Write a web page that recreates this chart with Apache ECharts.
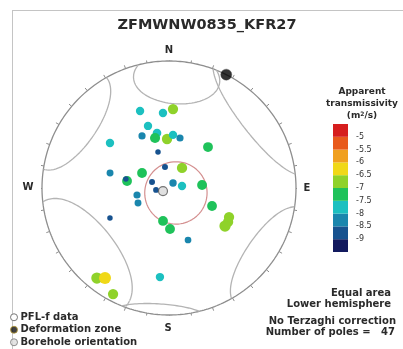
<!DOCTYPE html>
<html>
<head>
<meta charset="utf-8">
<script src="https://cdn.jsdelivr.net/npm/echarts@6/dist/echarts.min.js"></script>
<style>html,body{margin:0;padding:0;background:#fff}#c{width:403px;height:349px}</style>
</head>
<body>
<div id="c"></div>
<script>
// ---------------- data ----------------
const chartTitle = 'ZFMWNW0835_KFR27';
// PFL-f poles (trend, plunge in degrees) and log10 apparent transmissivity
const poleTrend  = [339.4,355.4,2.9,341.3,332.6,347.7,344.4,357.7,4.3,12.4,307.3,43.6,343,284.3,299.1,279.5,281.8,349.2,33,84.8,289.4,38.7,81.3,261.3,257.7,244.2,112.7,243,190.3,178.6,115.8,119.9,124.2,159.9,185.8,218.7,215.4,207.8];
const polePlunge = [35.5,40.5,37.8,47.2,51.9,53.5,56.4,58.3,55.5,56.9,41.2,53.3,65.8,50.4,70.2,62.6,61.6,76.3,74.7,68.7,78.5,85.9,81.6,81.6,69.0,67.9,59.9,46.7,68.5,63.6,46.4,45.4,45.7,54.1,30.2,10.1,14.1,6.2];
const poleLogT   = [-7.8,-7.8,-7.0,-7.8,-8.3,-7.7,-7.1,-7.0,-7.8,-8.3,-7.8,-7.2,-9.0,-8.4,-7.2,-7.2,-9.0,-8.8,-7.0,-7.2,-8.8,-8.2,-7.8,-8.9,-8.3,-8.4,-7.2,-9.0,-7.2,-7.2,-7.0,-7.0,-6.6,-8.5,-7.8,-6.6,-6.3,-7.0];
// deformation zone pole and borehole orientation
const dzTrend = [26.8], dzPlunge = [0];
const bhTrend = [243], bhPlunge = [85.7];
// small circles (axis trend, plunge, half-angle)
const scTrend = [4, 304.5, 232], scPlunge = [12.3, 2.3, 7.5], scHalf = [21.6, 26.1, 32.5];
// red cone
const coneTrend = [125.5], conePlunge = [84.5], coneHalf = [20];
// colour scale
const cbBreaks = [-9.5,-9,-8.5,-8,-7.5,-7,-6.5,-6,-5.5,-5,-4.5];
const cbColors = ['#121a5e','#17528f','#1a86ad','#1cc0c0','#1fc25a','#8fd22a','#f0d818','#f0a020','#e85a1c','#d61e1e'];
const cbTickLabels = [-5,-5.5,-6,-6.5,-7,-7.5,-8,-8.5,-9];
const compass = ['N','E','S','W'];
const legendNames = ['PFL-f data','Deformation zone','Borehole orientation'];
const infoLines = ['Equal area','Lower hemisphere','No Terzaghi correction','Number of poles =   47'];

// ---------------- helpers ----------------
const D = Math.PI/180;
function dirVec(tr, pl){const t=tr*D,p=pl*D;return [Math.cos(p)*Math.cos(t),Math.cos(p)*Math.sin(t),Math.sin(p)];}
function projVec(v){
  const pl=Math.asin(Math.max(-1,Math.min(1,v[2])));
  const tr=Math.atan2(v[1],v[0]);
  const r=Math.SQRT2*Math.sin((Math.PI/2-pl)/2);
  return [r*Math.sin(tr), r*Math.cos(tr)];
}
function proj(tr,pl){return projVec(dirVec(tr,pl));}
function cross(a,b){return [a[1]*b[2]-a[2]*b[1],a[2]*b[0]-a[0]*b[2],a[0]*b[1]-a[1]*b[0]];}
function norm(a){const l=Math.hypot(a[0],a[1],a[2]);return a.map(x=>x/l);}
function smallCircle(tr,pl,half){
  const a=dirVec(tr,pl);
  const h=Math.abs(a[2])<0.9?[0,0,1]:[1,0,0];
  const u=norm(cross(a,h)), w=cross(a,u);
  const hc=Math.cos(half*D), hs=Math.sin(half*D);
  const segs=[]; let cur=[]; let prev=null;
  for(let k=0;k<=720;k++){
    const th=k/720*2*Math.PI;
    let v=[0,1,2].map(i=>hc*a[i]+hs*(Math.cos(th)*u[i]+Math.sin(th)*w[i]));
    const s=v[2]>=0;
    if(!s) v=v.map(x=>-x);
    if(prev!==null && s!==prev){segs.push(cur);cur=[];}
    cur.push(projVec(v)); prev=s;
  }
  segs.push(cur);
  return segs.filter(s=>s.length>1);
}

// ---------------- build ----------------
const FONT = '"DejaVu Sans", sans-serif';
const series = [];
// primitive
const prim=[]; for(let t=0;t<=360;t+=1) prim.push(proj(t,0));
series.push({type:'line',data:prim,showSymbol:false,silent:true,clip:false,lineStyle:{color:'#8e8e8e',width:1.3},z:2});
// ticks
const ticks=[]; for(let t=0;t<360;t+=10){const p=proj(t,0);ticks.push({coords:[p,[p[0]*1.028,p[1]*1.028]]});}
series.push({type:'lines',coordinateSystem:'cartesian2d',data:ticks,silent:true,lineStyle:{color:'#8e8e8e',width:1,opacity:1},z:2});
// small circles
for(let i=0;i<scTrend.length;i++){
  smallCircle(scTrend[i],scPlunge[i],scHalf[i]).forEach(seg=>{
    series.push({type:'line',data:seg,showSymbol:false,silent:true,clip:false,lineStyle:{color:'#b4b4b4',width:1.3},z:2});
  });
}
smallCircle(coneTrend[0],conePlunge[0],coneHalf[0]).forEach(seg=>{
  series.push({type:'line',data:seg,showSymbol:false,silent:true,clip:false,lineStyle:{color:'#d49090',width:1.2},z:2});
});
// poles
const poleData = poleTrend.map((t,i)=>{const p=proj(t,polePlunge[i]);return [p[0],p[1],poleLogT[i]];});
const poleSeriesIndex = series.length;
series.push({name:legendNames[0],type:'scatter',data:poleData,clip:false,
  symbolSize:v=>5.5+(v[2]+9)*2.4,itemStyle:{opacity:1},z:5});
series.push({name:legendNames[1],type:'scatter',data:dzTrend.map((t,i)=>proj(t,dzPlunge[i])),clip:false,
  symbolSize:11,itemStyle:{color:'#000',borderColor:'#444',borderWidth:0.5},z:6});
series.push({name:legendNames[2],type:'scatter',data:bhTrend.map((t,i)=>proj(t,bhPlunge[i])),clip:false,
  symbolSize:9,itemStyle:{color:'#d8d8d8',borderColor:'#555',borderWidth:1.2},z:6});
// colorbar
const cbData = cbColors.map((c,i)=>[cbBreaks[i],cbBreaks[i+1],c]);
series.push({type:'custom',xAxisIndex:1,yAxisIndex:1,data:cbData,silent:true,
  renderItem:(params,api)=>{
    const lo=api.value(0),hi=api.value(1);
    const p0=api.coord([0,lo]),p1=api.coord([1,hi]);
    return {type:'rect',shape:{x:p0[0],y:p1[1],width:p1[0]-p0[0],height:p0[1]-p1[1]},
      style:{fill:cbColors[params.dataIndex]}};
  }});

const pieces = cbColors.map((c,i)=>({gte:cbBreaks[i],lt:cbBreaks[i+1],color:c}));
pieces[pieces.length-1] = {gte:cbBreaks[cbBreaks.length-2],lte:cbBreaks[cbBreaks.length-1],color:cbColors[cbColors.length-1]};

const txt = (x,y,s,size,align,extra)=>Object.assign({type:'text',x:x,y:y,silent:true,
  style:{text:s,font:'bold '+size+'px '+FONT,fill:'#2a2a2a',textAlign:align||'center',textVerticalAlign:'middle'}},extra||{});
const compassPos = [[169,50],[307,188],[168,328],[28,187]];
const graphics = [
  {type:'line',shape:{x1:12,y1:10.5,x2:403,y2:10.5},style:{stroke:'#c4c4c4',lineWidth:1},silent:true},
  {type:'line',shape:{x1:12.5,y1:10,x2:12.5,y2:349},style:{stroke:'#c4c4c4',lineWidth:1},silent:true},
  txt(207,25,chartTitle,14.5,'center'),
  txt(362,92,'Apparent',9,'center'),
  txt(362,104,'transmissivity',9,'center'),
  {type:'text',x:362,y:116,silent:true,style:{text:'(m{s|2}/s)',font:'bold 9px '+FONT,fill:'#2a2a2a',textAlign:'center',textVerticalAlign:'middle',
    rich:{s:{fontSize:6,fontWeight:'bold',fontFamily:FONT,verticalAlign:'top',padding:[0,0,4,0]}}}},
  txt(391,293,infoLines[0],10,'right'),
  txt(391,304,infoLines[1],10,'right'),
  txt(396,321,infoLines[2],10,'right'),
  txt(395,332,infoLines[3],10,'right')
];
compass.forEach((c,i)=>graphics.push(txt(compassPos[i][0],compassPos[i][1],c,10,'center')));

const option = {
  animation:false,
  grid:[{left:42,top:61,width:254,height:254},{left:333,top:124,width:15,height:128}],
  xAxis:[{type:'value',min:-1,max:1,show:false},{type:'value',min:0,max:1,gridIndex:1,show:false}],
  yAxis:[{type:'value',min:-1,max:1,show:false},
    {type:'value',gridIndex:1,min:-9.5,max:-4.5,interval:0.5,position:'right',
     axisLine:{show:false},axisTick:{show:false},splitLine:{show:false},
     axisLabel:{margin:8,fontSize:8,fontFamily:FONT,color:'#333',
       formatter:v=>cbTickLabels.indexOf(v)>=0?String(v):''}}],
  visualMap:{type:'piecewise',show:false,dimension:2,seriesIndex:poleSeriesIndex,pieces:pieces},
  legend:{orient:'vertical',left:10,top:311,height:60,padding:0,itemGap:0,itemWidth:7,itemHeight:7,selectedMode:false,
    textStyle:{fontSize:10,fontWeight:'bold',fontFamily:FONT,color:'#2a2a2a',padding:[0,0,0,-2],lineHeight:12.5},
    data:[
      {name:legendNames[0],icon:'circle',itemStyle:{color:'#fff',borderColor:'#777',borderWidth:1}},
      {name:legendNames[1],icon:'circle',itemStyle:{color:'#111',borderColor:'#b89a30',borderWidth:1}},
      {name:legendNames[2],icon:'circle',itemStyle:{color:'#ddd',borderColor:'#777',borderWidth:1}}
    ]},
  graphic:graphics,
  series:series
};
const chart = echarts.init(document.getElementById('c'),null,{renderer:'canvas'});
chart.setOption(option);
</script>
</body>
</html>
